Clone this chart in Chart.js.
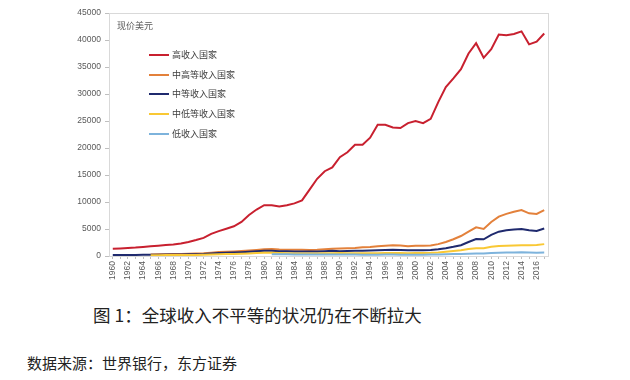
<!DOCTYPE html>
<html>
<head>
<meta charset="utf-8">
<script src="https://cdn.jsdelivr.net/npm/chart.js@4/dist/chart.umd.min.js"></script>
<style>
  body { margin: 0; background: #fff; width: 630px; height: 380px; overflow: hidden; position: relative; font-family: "Noto Sans CJK SC", "Noto Sans", sans-serif; }
  #wrap { position: absolute; left: 0; top: 0; width: 630px; height: 300px; }
  #unit { position: absolute; left: 117px; top: 19px; font-size: 9px; color: #595959; }
  #legend { position: absolute; left: 149px; top: 45px; font-size: 9px; color: #404040; }
  #legend .row { height: 19.8px; line-height: 14px; display: flex; align-items: center; }
  #legend .sw { width: 20px; height: 2px; margin-right: 3px; }
  #caption { position: absolute; left: 93px; top: 302px; font-size: 17.5px; color: #222; }
  #source { position: absolute; left: 27px; top: 352px; font-size: 15px; color: #222; }
</style>
</head>
<body>
<div id="wrap"><canvas id="grafico" width="630" height="300"></canvas></div>
<div id="unit">现价美元</div>
<div id="legend"></div>
<div id="caption">图 1：全球收入不平等的状况仍在不断拉大</div>
<div id="source">数据来源：世界银行，东方证券</div>
<script>
const anos = [
  "1960","1961","1962","1963","1964","1965","1966","1967","1968","1969",
  "1970","1971","1972","1973","1974","1975","1976","1977","1978","1979",
  "1980","1981","1982","1983","1984","1985","1986","1987","1988","1989",
  "1990","1991","1992","1993","1994","1995","1996","1997","1998","1999",
  "2000","2001","2002","2003","2004","2005","2006","2007","2008","2009",
  "2010","2011","2012","2013","2014","2015","2016","2017"
];

const altaRenda = [
  1350,1400,1480,1560,1680,1800,1900,2030,2150,2320,
  2600,2950,3350,4100,4600,5050,5500,6300,7600,8600,
  9400,9400,9150,9400,9750,10300,12300,14300,15700,16400,
  18300,19200,20600,20600,21900,24300,24300,23800,23700,24600,
  25000,24600,25400,28500,31300,32900,34600,37500,39400,36700,
  38300,41000,40900,41100,41600,39200,39700,41200
];

const mediaAlta = [
  null,null,null,null,null,300,320,330,350,380,
  420,460,520,620,730,800,850,930,1020,1120,
  1250,1300,1200,1150,1150,1150,1100,1150,1250,1350,
  1400,1450,1500,1600,1650,1800,1900,2000,1950,1800,
  1900,1900,1950,2200,2600,3100,3700,4500,5300,5000,
  6300,7300,7800,8200,8500,7900,7800,8500
];

const media = [
  180,185,190,200,215,230,245,255,270,290,
  310,340,380,460,550,600,640,700,770,860,
  950,960,900,860,850,840,820,850,900,950,
  900,920,950,980,1000,1050,1100,1150,1100,1050,
  1050,1050,1100,1250,1450,1700,2000,2600,3150,3100,
  3900,4500,4750,4900,5000,4750,4650,5100
];

const mediaBaixa = [
  null,null,null,null,null,150,160,165,170,180,
  190,200,230,280,340,370,390,420,470,540,
  600,580,540,500,480,460,450,470,500,520,
  540,520,500,490,500,520,550,560,540,530,
  550,560,580,650,780,920,1080,1300,1450,1450,
  1700,1850,1900,1950,2000,2000,2050,2200
];

const baixaRenda = [
  null,null,null,null,null,null,null,null,null,null,
  null,null,null,null,null,null,null,null,null,null,
  null,330,320,310,300,290,290,300,300,300,
  300,290,270,250,230,240,260,260,250,240,
  250,250,260,290,320,350,380,420,470,480,
  550,600,630,660,690,650,620,640
];

const series = [
  { nome: "高收入国家", valores: altaRenda, cor: "#C8202F" },
  { nome: "中高等收入国家", valores: mediaAlta, cor: "#E3813B" },
  { nome: "中等收入国家", valores: media, cor: "#1F2A6E" },
  { nome: "中低等收入国家", valores: mediaBaixa, cor: "#F9C834" },
  { nome: "低收入国家", valores: baixaRenda, cor: "#7DB3DC" }
];

function gerarLegenda() {
  const box = document.getElementById("legend");
  box.innerHTML = series.map(s =>
    `<div class="row"><span class="sw" style="background:${s.cor}"></span>${s.nome}</div>`
  ).join("");
}

// moldura cinza em volta da área do gráfico
const moldura = {
  id: "moldura",
  beforeDatasetsDraw(chart) {
    const a = chart.chartArea;
    const ctx = chart.ctx;
    ctx.save();
    ctx.strokeStyle = "#d9d9d9";
    ctx.lineWidth = 1;
    ctx.strokeRect(a.left + 0.5, a.top + 0.5, a.right - a.left, a.bottom - a.top);
    ctx.restore();
  }
};

function gerarGrafico() {
  const ctx = document.getElementById("grafico").getContext("2d");
  const fonte = { family: "'Liberation Sans', Arial, sans-serif", size: 8.5 };

  new Chart(ctx, {
    type: "line",
    data: {
      labels: anos,
      datasets: series.map((s, i) => ({
        label: s.nome,
        data: s.valores,
        borderColor: s.cor,
        borderWidth: 2,
        pointRadius: 0,
        tension: 0,
        fill: false,
        order: -i
      }))
    },
    options: {
      responsive: false,
      animation: false,
      layout: { padding: { left: 0, top: 13, right: 82, bottom: 0 } },
      plugins: { legend: { display: false }, tooltip: { enabled: false } },
      scales: {
        x: {
          offset: true,
          grid: { drawOnChartArea: false, tickLength: 3, color: "#bfbfbf" },
          border: { color: "#bfbfbf" },
          ticks: {
            autoSkip: false,
            maxRotation: 90,
            minRotation: 90,
            padding: 2,
            color: "#595959",
            font: fonte,
            callback: (v, i) => (i % 2 === 0 ? anos[i] : "")
          },
          afterFit: s => { s.height = 44; }
        },
        y: {
          min: 0,
          max: 45000,
          grid: { drawOnChartArea: false, tickLength: 4, color: "#bfbfbf" },
          border: { color: "#bfbfbf" },
          ticks: { stepSize: 5000, padding: 4, color: "#595959", font: fonte, callback: v => String(v) },
          afterFit: s => { s.width = 109; }
        }
      }
    },
    plugins: [moldura]
  });
}

gerarLegenda();
gerarGrafico();
</script>
</body>
</html>
